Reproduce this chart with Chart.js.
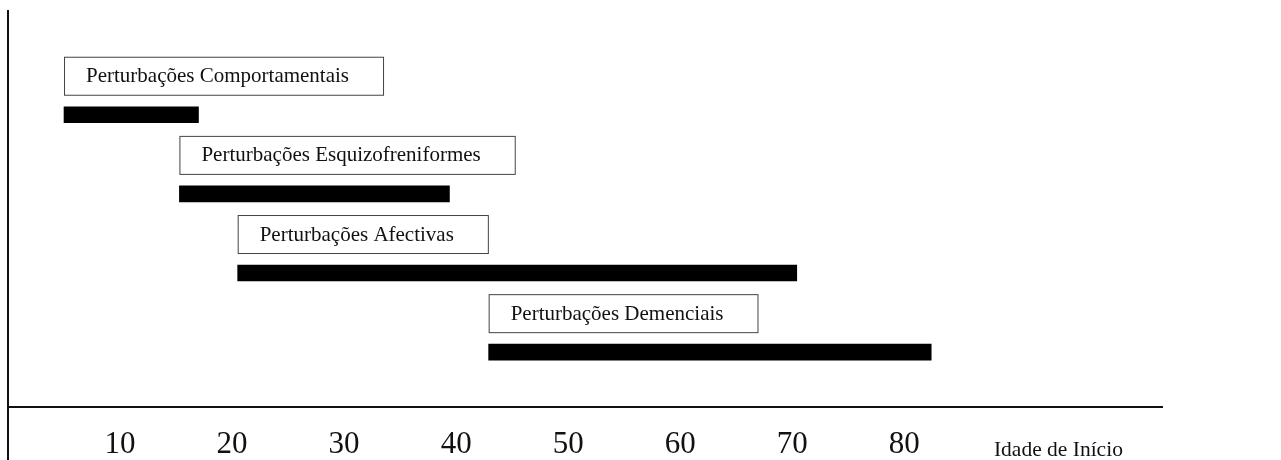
<!DOCTYPE html>
<html lang="pt">
<head>
<meta charset="UTF-8">
<title>Idade de Início</title>
<script src="https://cdn.jsdelivr.net/npm/chart.js"></script>
<style>
  html, body { margin: 0; padding: 0; background: #fff; }
  .chart-box { position: relative; width: 1281px; height: 460px; }
</style>
</head>
<body>
<div class="chart-box">
  <canvas id="onsetChart"></canvas>
</div>
<script>
// disorder groups and the age span of onset (start / end, in years)
const categories = [
  'Perturbações Comportamentais',
  'Perturbações Esquizofreniformes',
  'Perturbações Afectivas',
  'Perturbações Demenciais'
];
const onsetStart = [5, 15.3, 20.5, 42.9];
const onsetEnd = [17, 39.4, 70.4, 82.4];
const tickValues = [10, 20, 30, 40, 50, 60, 70, 80];
const axisTitle = 'Idade de Início';

const SERIF = '"Liberation Serif", "Times New Roman", serif';

// label box drawn above each bar, starting where the bar starts
const labelBoxes = {
  id: 'labelBoxes',
  afterDatasetsDraw(chart) {
    const { ctx } = chart;
    const meta = chart.getDatasetMeta(0);
    const xs = chart.scales.x;
    ctx.save();
    ctx.font = '21px ' + SERIF;
    meta.data.forEach((bar, i) => {
      const left = xs.getPixelForValue(onsetStart[i]);
      const w = ctx.measureText(categories[i]).width + 56;
      const top = bar.y - 58;
      const h = 38;
      ctx.fillStyle = '#fff';
      ctx.fillRect(left, top, w, h);
      ctx.strokeStyle = '#444';
      ctx.lineWidth = 1;
      ctx.strokeRect(left + 0.5, top + 0.5, w, h);
      ctx.fillStyle = '#111';
      ctx.textBaseline = 'middle';
      ctx.fillText(categories[i], left + 22, top + h / 2 + 1);
    });
    ctx.restore();
  }
};

// axis title sits on the tick-label line, right of the last tick
const axisTitleRight = {
  id: 'axisTitleRight',
  afterDraw(chart) {
    const { ctx } = chart;
    const xs = chart.scales.x;
    ctx.save();
    ctx.font = '21.5px ' + SERIF;
    ctx.fillStyle = '#111';
    ctx.textBaseline = 'alphabetic';
    ctx.fillText(axisTitle, xs.getPixelForValue(88.0), 456);
    ctx.restore();
  }
};

new Chart(document.getElementById('onsetChart'), {
  type: 'bar',
  data: {
    datasets: [{
      data: categories.map((c, i) => ({ x: [onsetStart[i], onsetEnd[i]], y: i + 1 })),
      backgroundColor: '#000',
      borderWidth: 0,
      barThickness: 16
    }]
  },
  options: {
    indexAxis: 'y',
    responsive: true,
    maintainAspectRatio: false,
    animation: false,
    layout: { padding: { top: 10, left: 8, right: 119, bottom: 0 } },
    plugins: { legend: { display: false }, tooltip: { enabled: false } },
    scales: {
      y: {
        type: 'linear',
        reverse: true,
        offset: false,
        min: -0.3236,
        max: 4.693,
        display: false
      },
      x: {
        type: 'linear',
        min: 0,
        max: 103,
        afterBuildTicks: (axis) => {
          axis.ticks = [0, ...tickValues].map(v => ({ value: v }));
        },
        // axis box runs from the axis line to the bottom of the canvas
        afterFit: (axis) => { axis.height = 53; },
        ticks: {
          autoSkip: false,
          maxRotation: 0,
          padding: -34,
          color: '#111',
          font: { family: SERIF, size: 31 },
          callback: (v) => tickValues.includes(v) ? String(v) : ''
        },
        grid: {
          drawOnChartArea: true,
          drawTicks: true,
          tickLength: 53,
          lineWidth: 2,
          color: (ctx) => (ctx.tick && ctx.tick.value === 0) ? '#111' : 'rgba(0,0,0,0)'
        },
        border: { display: true, color: '#111', width: 2 }
      }
    }
  },
  plugins: [labelBoxes, axisTitleRight]
});
</script>
</body>
</html>
